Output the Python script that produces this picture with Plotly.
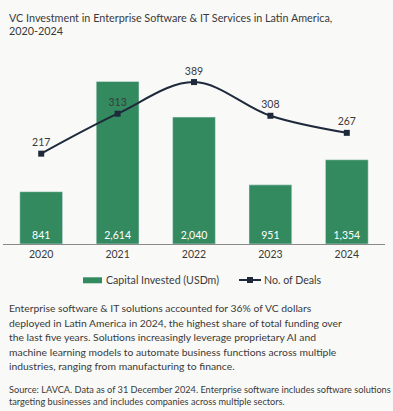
import plotly.graph_objects as go

years = ["2020", "2021", "2022", "2023", "2024"]
capital = [841, 2614, 2040, 951, 1354]
capital_labels = ["841", "2,614", "2,040", "951", "1,354"]
deals = [217, 313, 389, 308, 267]

title_lines = ["VC Investment in Enterprise Software & IT Services in Latin America,", "2020-2024"]
para_lines = [
    "Enterprise software & IT solutions accounted for 36% of VC dollars",
    "deployed in Latin America in 2024, the highest share of total funding over",
    "the last five years. Solutions increasingly leverage proprietary AI and",
    "machine learning models to automate business functions across multiple",
    "industries, ranging from manufacturing to finance.",
]
source_lines = [
    "Source: LAVCA. Data as of 31 December 2024. Enterprise software includes software solutions",
    "targeting businesses and includes companies across multiple sectors.",
]

BG = "#f9f9f7"
GREEN = "#338a5f"
NAVY = "#1e2a3c"
TXT = "#3a3a3a"
FONT = "Lato"

W, H = 393, 411
L, R, T, B = 3, 8, 50, 167
PW, PH = W - L - R, H - T - B


def px(x):
    return (x - L) / PW


def py(y):
    return (H - B - y) / PH


fig = go.Figure()
fig.add_trace(go.Bar(
    x=years, y=capital, name="Capital Invested (USDm)",
    marker_color=GREEN, text=capital_labels, textposition="inside",
    insidetextanchor="start", textangle=0,
    textfont=dict(color="white", size=10.5, family=FONT),
    hoverinfo="skip", showlegend=False,
))
fig.add_trace(go.Scatter(
    x=years, y=deals, name="No. of Deals", yaxis="y2",
    mode="lines+markers+text", line=dict(color=NAVY, width=2, shape="spline", smoothing=1),
    marker=dict(symbol="square", size=6, color=NAVY),
    text=[str(d) for d in deals], textposition="top center",
    textfont=dict(color=TXT, size=10.5, family=FONT), showlegend=False,
))

fig.update_layout(
    width=W, height=H,
    paper_bgcolor=BG, plot_bgcolor=BG,
    margin=dict(l=L, r=R, t=T, b=B, autoexpand=False),
    font=dict(family=FONT, color=TXT),
    bargap=0.44,
    showlegend=False,
    xaxis=dict(showgrid=False, showline=True, linecolor="#8a8a8a", linewidth=1,
               ticks="", tickfont=dict(size=10.5, color=TXT, family=FONT)),
    yaxis=dict(range=[0, 3119], visible=False, showgrid=False),
    yaxis2=dict(range=[0, 466], overlaying="y", visible=False, showgrid=False),
)

# custom legend
fig.add_shape(type="rect", xref="paper", yref="paper", x0=px(83), x1=px(102), y0=py(283.3), y1=py(277.3),
              fillcolor=GREEN, line_width=0)
fig.add_annotation(xref="paper", yref="paper", x=px(104), y=py(280), xanchor="left", yanchor="middle",
                   text="Capital Invested (USDm)", showarrow=False, font=dict(size=10.6, color=TXT, family=FONT))
fig.add_shape(type="line", xref="paper", yref="paper", x0=px(239), x1=px(261), y0=py(280), y1=py(280),
              line=dict(color=NAVY, width=2))
fig.add_shape(type="rect", xref="paper", yref="paper", x0=px(247), x1=px(253), y0=py(283), y1=py(277),
              fillcolor=NAVY, line_width=0)
fig.add_annotation(xref="paper", yref="paper", x=px(262), y=py(280), xanchor="left", yanchor="middle",
                   text="No. of Deals", showarrow=False, font=dict(size=10.6, color=TXT, family=FONT))

# title
for i, t in enumerate(title_lines):
    fig.add_annotation(xref="paper", yref="paper", x=px(10), y=py(18 + 13 * i), xanchor="left", yanchor="middle",
                       xshift=-3, text=t, showarrow=False, font=dict(size=10.8, color=TXT, family=FONT))

# paragraph
for i, t in enumerate(para_lines):
    fig.add_annotation(xref="paper", yref="paper", x=px(10), y=py(308 + 14.5 * i), xanchor="left", yanchor="middle",
                       xshift=-3, text=t, showarrow=False, font=dict(size=10.35, color=TXT, family=FONT))

# source
for i, t in enumerate(source_lines):
    fig.add_annotation(xref="paper", yref="paper", x=px(10), y=py(389 + 12 * i), xanchor="left", yanchor="middle",
                       xshift=-3, text=t, showarrow=False, font=dict(size=9.2, color=TXT, family=FONT))

fig.write_html("out.html", config={"displayModeBar": False},
               post_script="document.body.style.margin='0';")
